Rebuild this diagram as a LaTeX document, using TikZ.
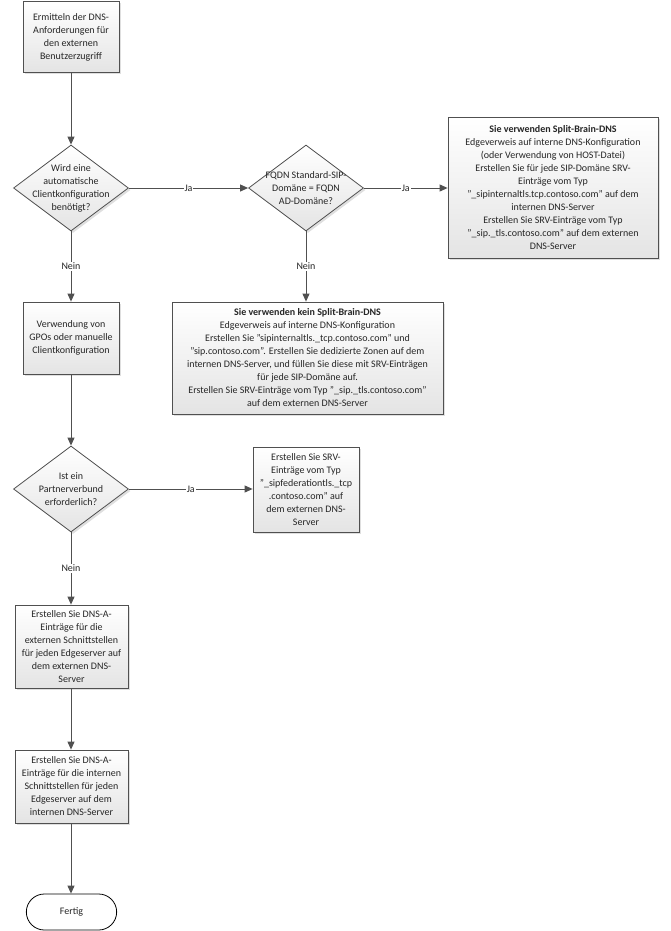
\documentclass[tikz,border=0pt]{standalone}
\usepackage{fontspec}
\setmainfont{Carlito}
\usetikzlibrary{shapes.geometric,shapes.misc,arrows.meta,shadows}
\definecolor{linegray}{HTML}{505050}
\definecolor{boxgray}{HTML}{E4E4E4}
\definecolor{textgray}{HTML}{262626}

\begin{document}
\begin{tikzpicture}[x=1pt, y=-1pt,
    every node/.style={font=\fontsize{10}{13}\selectfont, text=textgray},
    process/.style={rectangle, draw=linegray, line width=0.8pt, top color=white, bottom color=boxgray,
        drop shadow={shadow xshift=2pt, shadow yshift=-2pt, opacity=0.25}, align=center, inner sep=2pt},
    decision/.style={diamond, draw=linegray, line width=0.8pt, top color=white, bottom color=boxgray,
        drop shadow={shadow xshift=2pt, shadow yshift=-2pt, opacity=0.25}, inner sep=0pt,
        minimum width=115pt, minimum height=86pt},
    dectext/.style={align=center},
    flow/.style={draw=linegray, line width=1pt, -{Triangle[length=8pt, width=7pt]}},
    answer/.style={fill=white, inner sep=1pt}]

            \useasboundingbox (0, 0) rectangle (670, 931);

            % Left column
            \node[process, minimum width=96pt, minimum height=71pt] (start) at (71, 37)
                {Ermitteln der DNS-\\Anforderungen für\\den externen\\Benutzerzugriff};
            \node[decision, label={[dectext]center:Wird eine\\automatische\\Clientkonfiguration\\benötigt?}]
                (auto) at (71, 188) {};
            \node[process, minimum width=96pt, minimum height=72pt] (gpo) at (71, 338)
                {Verwendung von\\GPOs oder manuelle\\Clientkonfiguration};
            \node[decision, label={[dectext]center:Ist ein\\Partnerverbund\\erforderlich?}]
                (partner) at (71, 489) {};
            \node[process, minimum width=113pt, minimum height=83pt] (extA) at (71.5, 646.5)
                {Erstellen Sie DNS-A-\\Einträge für die\\externen Schnittstellen\\für jeden Edgeserver auf\\dem externen DNS-\\Server};
            \node[process, minimum width=113pt, minimum height=73pt] (intA) at (71.5, 786.5)
                {Erstellen Sie DNS-A-\\Einträge für die internen\\Schnittstellen für jeden\\Edgeserver auf dem\\internen DNS-Server};
            \node[rounded rectangle, draw=black, line width=0.8pt, fill=white,
                minimum width=97pt, minimum height=36pt] (done) at (71.5, 912) {Fertig};

            % Middle and right column
            \node[decision, label={[dectext]center:FQDN Standard-SIP-\\Domäne = FQDN\\AD-Domäne?}]
                (fqdn) at (306, 188) {};
            \node[process, minimum width=210pt, minimum height=141pt] (split) at (553, 187.5)
                {\textbf{Sie verwenden Split-Brain-DNS}\\Edgeverweis auf interne DNS-Konfiguration\\(oder Verwendung von HOST-Datei)\\Erstellen Sie für jede SIP-Domäne SRV-\\Einträge vom Typ\\"\_sipinternaltls.tcp.contoso.com" auf dem\\internen DNS-Server\\Erstellen Sie SRV-Einträge vom Typ\\"\_sip.\_tls.contoso.com" auf dem externen\\DNS-Server};
            \node[process, minimum width=271pt, minimum height=112pt] (nosplit) at (307.5, 358)
                {\textbf{Sie verwenden kein Split-Brain-DNS}\\Edgeverweis auf interne DNS-Konfiguration\\Erstellen Sie "sipinternaltls.\_tcp.contoso.com" und\\"sip.contoso.com". Erstellen Sie dedizierte Zonen auf dem\\internen DNS-Server, und füllen Sie diese mit SRV-Einträgen\\für jede SIP-Domäne auf.\\Erstellen Sie SRV-Einträge vom Typ "\_sip.\_tls.contoso.com"\\auf dem externen DNS-Server};
            \node[process, minimum width=106pt, minimum height=85pt] (fed) at (306, 489.5)
                {Erstellen Sie SRV-\\Einträge vom Typ\\"\_sipfederationtls.\_tcp\\.contoso.com" auf\\dem externen DNS-\\Server};

            % Draw the connectors
            \draw[flow] (start) -- (auto);
            \draw[flow] (auto.east) -- node[answer] {Ja} (fqdn.west);
            \draw[flow] (fqdn.east) -- node[answer] {Ja} (split.west |- fqdn.east);
            \draw[flow] (fqdn.south) -- node[answer] {Nein} (nosplit.north -| fqdn.south);
            \draw[flow] (auto.south) -- node[answer] {Nein} (gpo.north);
            \draw[flow] (gpo) -- (partner);
            \draw[flow] (partner.east) -- node[answer] {Ja} (fed.west |- partner.east);
            \draw[flow] (partner.south) -- node[answer] {Nein} (extA.north -| partner.south);
            \draw[flow] (extA.south -| partner.south) -- (intA.north -| partner.south);
            \draw[flow] (intA.south -| partner.south) -- (done.north -| partner.south);
\end{tikzpicture}
\end{document}
